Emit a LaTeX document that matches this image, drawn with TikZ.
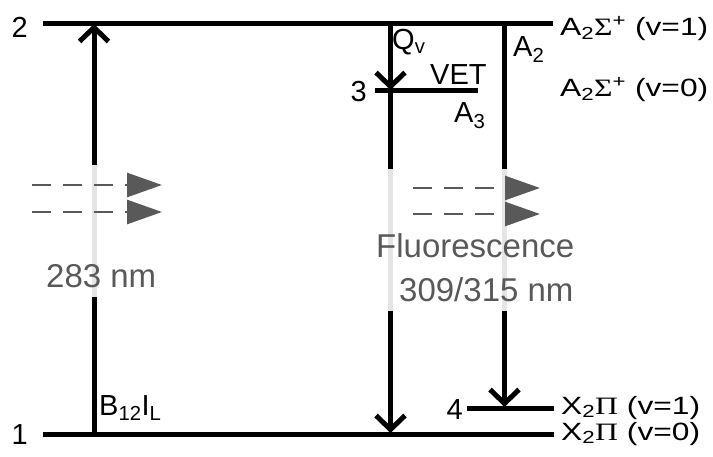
\documentclass[tikz,border=0pt]{standalone}
\usepackage{fontspec}
\setmainfont{Liberation Sans}
\newfontfamily\grk{Liberation Serif}
\newfontfamily\widesans[FakeStretch=1.27]{Liberation Sans}
\newfontfamily\widegrk[FakeStretch=1.27]{Liberation Serif}
\usetikzlibrary{arrows.meta}
\definecolor{dgray}{HTML}{595959}
\definecolor{lgray}{HTML}{E5E5E5}
\tikzset{
  level/.style={line width=5pt},
  trans/.style={line width=5pt,-{Straight Barb[length=14pt,width=29pt]}},
  gap/.style={line width=5pt,lgray},
  photon/.style={line width=2.7pt,dgray,dash pattern=on 19pt off 12pt,-{Triangle[length=35pt,width=24pt]}},
  lab/.style={font=\fontsize{29}{29}\selectfont,inner sep=0pt,anchor=base west},
  rlab/.style={font=\fontsize{25}{25}\selectfont\widesans,inner sep=0pt,anchor=base west},
  glab/.style={font=\fontsize{33}{33}\selectfont,inner sep=0pt,anchor=base west,text=dgray},
}
\begin{document}
\begin{tikzpicture}[x=1pt,y=-1pt]
\useasboundingbox (0,0) rectangle (713,457);
% level coordinates
\coordinate (L2a) at (43,24);   \coordinate (L2b) at (553,24);
\coordinate (L1a) at (43,434.5); \coordinate (L1b) at (554,434.5);
\coordinate (L3a) at (375,91);  \coordinate (L3b) at (478,91);
\coordinate (L4a) at (467,408); \coordinate (L4b) at (554,408);
\draw[level] (L2a) -- (L2b);
\draw[level] (L1a) -- (L1b);
\draw[level] (L3a) -- (L3b);
\draw[level] (L4a) -- (L4b);
% transitions
\coordinate (exB) at (94,434.5); \coordinate (exT) at (94,24);
\coordinate (mT) at (390.5,24); \coordinate (m3) at (390.5,90); \coordinate (mB) at (390.5,433);
\coordinate (rT) at (504.5,24); \coordinate (r4) at (504.5,407);
\draw[trans] (exB) -- (exT);
\draw[trans] (mT) -- (m3);
\draw[trans] (m3) -- (mB);
\draw[trans] (rT) -- (r4);
% light gaps
\coordinate (g1a) at (94,165);    \coordinate (g1b) at (94,297);
\coordinate (g2a) at (390.5,169); \coordinate (g2b) at (390.5,311);
\coordinate (g3a) at (504.5,169); \coordinate (g3b) at (504.5,311);
\draw[gap] (g1a) -- (g1b);
\draw[gap] (g2a) -- (g2b);
\draw[gap] (g3a) -- (g3b);
% photons
\coordinate (p1a) at (32,185);  \coordinate (p1b) at (162,185);
\coordinate (p2a) at (32,212);  \coordinate (p2b) at (162,212);
\coordinate (p3a) at (413,188); \coordinate (p3b) at (540,188);
\coordinate (p4a) at (413,214); \coordinate (p4b) at (540,214);
\draw[photon] (p1a) -- (p1b);
\draw[photon] (p2a) -- (p2b);
\draw[photon] (p3a) -- (p3b);
\draw[photon] (p4a) -- (p4b);
% labels
\node[lab,anchor=base east] (n2) at (28,38) {2};
\node[lab,anchor=base east] (n1) at (28,444) {1};
\node[lab,anchor=base east] (n3) at (367,102) {3};
\node[lab,anchor=base east] (n4) at (463,420) {4};
\node[lab] (qv) at (392,50) {Q\textsubscript{v}};
\node[lab] (vet) at (430,85) {VET};
\node[lab] (a3) at (454,123) {A\textsubscript{3}};
\node[lab] (a2) at (513,57) {A\textsubscript{2}};
\node[lab] (bil) at (99,415) {B\textsubscript{12}I\textsubscript{L}};
\node[rlab] (s1) at (560,36) {A\textsubscript{2}{\widegrk Σ}\textsuperscript{+} (v=1)};
\node[rlab] (s0) at (560,97) {A\textsubscript{2}{\widegrk Σ}\textsuperscript{+} (v=0)};
\node[rlab] (x1) at (561,414) {X\textsubscript{2}{\widegrk Π} (v=1)};
\node[rlab] (x0) at (561,440) {X\textsubscript{2}{\widegrk Π} (v=0)};
\node[glab] (exc) at (46,288) {283 nm};
\node[glab] (fl) at (376,258) {Fluorescence};
\node[glab] (flw) at (399,302) {309/315 nm};
\end{tikzpicture}
\end{document}
